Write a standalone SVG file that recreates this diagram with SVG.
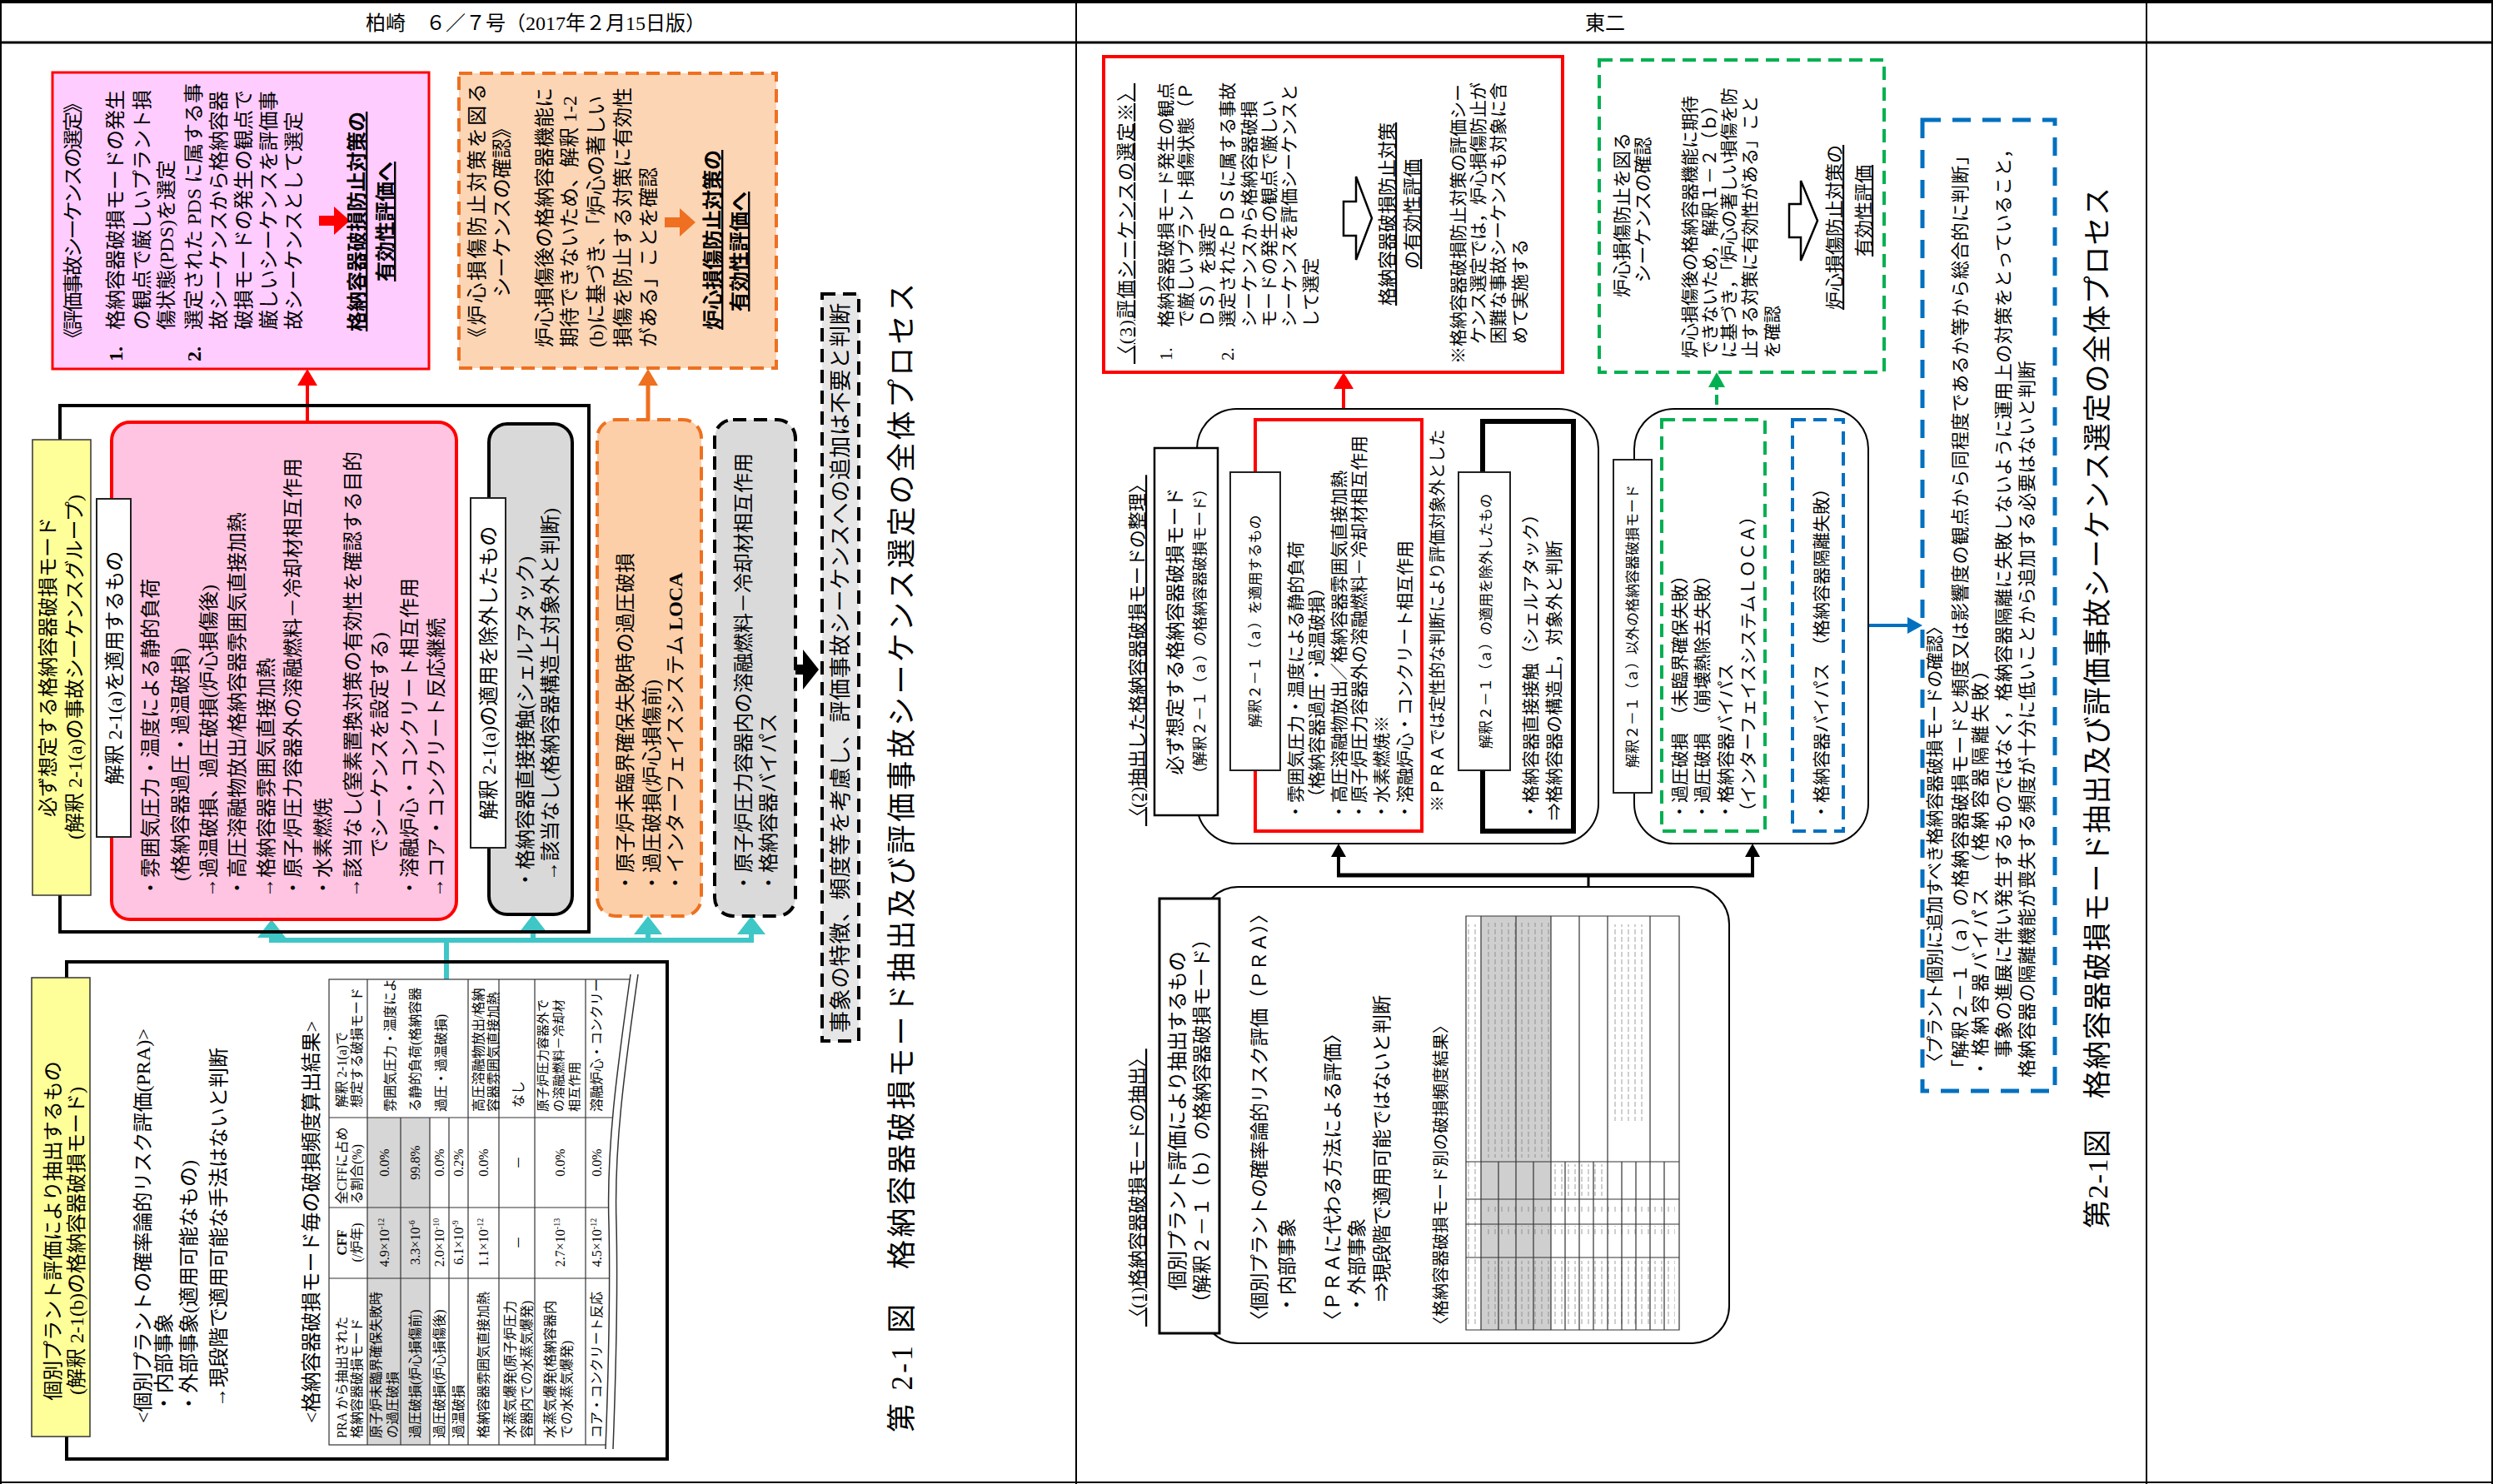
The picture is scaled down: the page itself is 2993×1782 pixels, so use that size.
<svg xmlns="http://www.w3.org/2000/svg" width="2993" height="1782" viewBox="0 0 2993 1782">
<defs>
<style>
text{font-family:"Liberation Serif","Noto Sans CJK JP",serif;fill:#000}
.m{text-anchor:middle}
.u{text-decoration:underline}
.b{font-weight:bold}
.s15{font-size:15px}.s16{font-size:16px}.s17{font-size:17px}.s18{font-size:18px}.s20{font-size:20px}.s21{font-size:21px}.s22{font-size:22px}.s23{font-size:23px}.s24{font-size:24px}.s26{font-size:26px}.s34{font-size:34px}.s35{font-size:35px}
.pg{stroke:#000;fill:none}
.lbl{fill:#fff;stroke:#222;stroke-width:2}
.tb{fill:none;stroke:#333;stroke-width:1.2}
.dsh{stroke-dasharray:16 9}
</style>
<marker id="mR" markerUnits="userSpaceOnUse" viewBox="0 0 20 24" refX="14" refY="12" markerWidth="20" markerHeight="24" orient="auto"><path d="M0,0 L20,12 L0,24Z" fill="#f00"/></marker>
<marker id="mO" markerUnits="userSpaceOnUse" viewBox="0 0 20 24" refX="14" refY="12" markerWidth="20" markerHeight="24" orient="auto"><path d="M0,0 L20,12 L0,24Z" fill="#ee7020"/></marker>
<marker id="mC" markerUnits="userSpaceOnUse" viewBox="0 0 22 34" refX="16" refY="17" markerWidth="22" markerHeight="34" orient="auto"><path d="M0,0 L22,17 L0,34Z" fill="#3fc6c6"/></marker>
<marker id="mK" markerUnits="userSpaceOnUse" viewBox="0 0 16 18" refX="10" refY="9" markerWidth="16" markerHeight="18" orient="auto"><path d="M0,0 L16,9 L0,18Z" fill="#000"/></marker>
<marker id="mG" markerUnits="userSpaceOnUse" viewBox="0 0 18 20" refX="12" refY="10" markerWidth="18" markerHeight="20" orient="auto"><path d="M0,0 L18,10 L0,20Z" fill="#00b050"/></marker>
<marker id="mB" markerUnits="userSpaceOnUse" viewBox="0 0 18 20" refX="12" refY="10" markerWidth="18" markerHeight="20" orient="auto"><path d="M0,0 L18,10 L0,20Z" fill="#0070c0"/></marker>
<clipPath id="tclip"><path d="M390,1170 H757 C740,1290 728,1380 731,1470 C733,1560 730,1660 727,1740 H390 Z"/></clipPath>
<pattern id="tx" patternUnits="userSpaceOnUse" width="8" height="9"><rect x="2" y="0" width="2" height="6" fill="#777"/></pattern>
</defs>
<rect width="2993" height="1782" fill="#fff"/>

<g id="page" class="pg">
<path d="M0,2 H2993" stroke-width="4"/>
<path d="M0,51 H2993" stroke-width="3"/>
<path d="M1,0 V1782 M2992,0 V1782 M0,1780 H2993" stroke-width="2"/>
<path d="M1292,0 V1782 M2577,0 V1782" stroke-width="2"/>
</g>
<g id="header">
<text class="s24 m" x="643" y="36">柏崎　６／７号（2017年２月15日版）</text>
<text class="s24 m" x="1927" y="36">東二</text>
</g>

<!-- ================= LEFT FIGURE ================= -->
<g id="connectorsL">
<path d="M369,505 V449" stroke="#f00" stroke-width="4" fill="none" marker-end="url(#mR)"/>
<path d="M778,504 V449" stroke="#ee7020" stroke-width="5" fill="none" marker-end="url(#mO)"/>
<g stroke="#3fc6c6" stroke-width="6" fill="none">
<path d="M323,1129 H905 M536,1129 V1176"/>
<path d="M326,1129 V1110" marker-end="url(#mC)"/>
<path d="M640,1129 V1104" marker-end="url(#mC)"/>
<path d="M778,1129 V1106" marker-end="url(#mC)"/>
<path d="M902,1129 V1106" marker-end="url(#mC)"/>
</g>
<path d="M953,798 H964 V780 L983,804 L964,828 V810 H953 Z" fill="#000"/>
</g>

<g id="evalBoxL">
<rect x="63" y="87" width="452" height="356" fill="#ffccff" stroke="#f00" stroke-width="3"/>
<text class="s24" transform="translate(96 418) rotate(-90)" textLength="306">《評価事故シーケンスの選定》</text>
<text class="s24 b" transform="translate(147 434) rotate(-90)">1.</text>
<text class="s24" transform="translate(147 396) rotate(-90)">格納容器破損モードの発生</text>
<text class="s24" transform="translate(179 396) rotate(-90)">の観点で厳しいプラント損</text>
<text class="s24" transform="translate(208 396) rotate(-90)">傷状態(PDS)を選定</text>
<text class="s24 b" transform="translate(241 434) rotate(-90)">2.</text>
<text class="s24" transform="translate(241 396) rotate(-90)">選定された PDS に属する事</text>
<text class="s24" transform="translate(271 396) rotate(-90)">故シーケンスから格納容器</text>
<text class="s24" transform="translate(301 396) rotate(-90)">破損モードの発生の観点で</text>
<text class="s24" transform="translate(331 396) rotate(-90)">厳しいシーケンスを評価事</text>
<text class="s24" transform="translate(361 396) rotate(-90)">故シーケンスとして選定</text>
<path d="M383,259 H401 V248 L420,265 L401,282 V271 H383 Z" fill="#f00"/>
<text class="s24 b u m" transform="translate(437 266) rotate(-90)">格納容器破損防止対策の</text>
<text class="s24 b u m" transform="translate(471 266) rotate(-90)">有効性評価へ</text>
</g>

<g id="coreBoxL">
<rect x="551" y="88" width="381" height="354" fill="#fcd5b5" stroke="#ee7020" stroke-width="4" class="dsh"/>
<text class="s24" transform="translate(581 417) rotate(-90)" textLength="317">《炉心損傷防止対策を図る</text>
<text class="s24" transform="translate(611 357) rotate(-90)">シーケンスの確認》</text>
<text class="s24" transform="translate(662 417) rotate(-90)">炉心損傷後の格納容器機能に</text>
<text class="s24" transform="translate(692 417) rotate(-90)">期待できないため、解釈 1-2</text>
<text class="s24" transform="translate(724 417) rotate(-90)">(b)に基づき、「炉心の著しい</text>
<text class="s24" transform="translate(756 417) rotate(-90)">損傷を防止する対策に有効性</text>
<text class="s24" transform="translate(787 417) rotate(-90)">がある」ことを確認</text>
<path d="M798,261 H816 V250 L835,267 L816,284 V273 H798 Z" fill="#ee7020"/>
<text class="s24 b u m" transform="translate(864 288) rotate(-90)">炉心損傷防止対策の</text>
<text class="s24 b u m" transform="translate(896 302) rotate(-90)">有効性評価へ</text>
</g>

<g id="frameA">
<rect x="72" y="487" width="635" height="632" fill="none" stroke="#000" stroke-width="4"/>
</g>

<g id="labelA">
<rect x="39" y="528" width="70" height="547" fill="#ffff99" stroke="#333" stroke-width="1.5"/>
<text class="s24 m" transform="translate(66 801) rotate(-90)">必ず想定する格納容器破損モード</text>
<text class="s24 m" transform="translate(98 801) rotate(-90)">(解釈 2-1(a)の事故シーケンスグループ)</text>
</g>

<g id="applyBoxL">
<rect x="134" y="507" width="414" height="597" rx="22" fill="#ffc4e1" stroke="#f00" stroke-width="4"/>
<rect x="116" y="599" width="41" height="406" class="lbl"/>
<text class="s24 m" transform="translate(146 802) rotate(-90)">解釈 2-1(a)を適用するもの</text>
<text class="s24" transform="translate(189 1078) rotate(-90)">・雰囲気圧力・温度による静的負荷</text>
<text class="s24" transform="translate(225 1058) rotate(-90)">(格納容器過圧・過温破損)</text>
<text class="s24" transform="translate(259 1078) rotate(-90)">→過温破損、過圧破損(炉心損傷後)</text>
<text class="s24" transform="translate(293 1078) rotate(-90)">・高圧溶融物放出/格納容器雰囲気直接加熱</text>
<text class="s24" transform="translate(328 1078) rotate(-90)">→格納容器雰囲気直接加熱</text>
<text class="s24" transform="translate(360 1078) rotate(-90)">・原子炉圧力容器外の溶融燃料－冷却材相互作用</text>
<text class="s24" transform="translate(396 1078) rotate(-90)">・水素燃焼</text>
<text class="s24" transform="translate(432 1078) rotate(-90)">→該当なし(窒素置換対策の有効性を確認する目的</text>
<text class="s24" transform="translate(464 1030) rotate(-90)">でシーケンスを設定する)</text>
<text class="s24" transform="translate(500 1078) rotate(-90)">・溶融炉心・コンクリート相互作用</text>
<text class="s24" transform="translate(532 1078) rotate(-90)">→コア・コンクリート反応継続</text>
</g>

<g id="excludeBoxL">
<rect x="587" y="509" width="100" height="589" rx="22" fill="#d9d9d9" stroke="#000" stroke-width="4"/>
<rect x="565" y="598" width="42" height="420" class="lbl"/>
<text class="s24 m" transform="translate(595 808) rotate(-90)">解釈 2-1(a)の適用を除外したもの</text>
<text class="s24" transform="translate(639 1068) rotate(-90)">・格納容器直接接触(シェルアタック)</text>
<text class="s24" transform="translate(669 1058) rotate(-90)">→該当なし(格納容器構造上対象外と判断)</text>
</g>

<g id="orangeBoxL">
<rect x="717" y="504" width="125" height="596" rx="22" fill="#fccfa9" stroke="#ee7020" stroke-width="4" class="dsh"/>
<text class="s24" transform="translate(759 1072) rotate(-90)">・原子炉未臨界確保失敗時の過圧破損</text>
<text class="s24" transform="translate(791 1072) rotate(-90)">・過圧破損(炉心損傷前)</text>
<text class="s24" transform="translate(819 1072) rotate(-90)">・インターフェイスシステム <tspan class="b">LOCA</tspan></text>
</g>

<g id="grayBoxL">
<rect x="858" y="504" width="97" height="596" rx="22" fill="#dadada" stroke="#000" stroke-width="4" class="dsh"/>
<text class="s24" transform="translate(901 1072) rotate(-90)">・原子炉圧力容器内の溶融燃料－冷却材相互作用</text>
<text class="s24" transform="translate(931 1072) rotate(-90)">・格納容器バイパス</text>
</g>

<g id="judgeBoxL">
<rect x="987" y="353" width="44" height="897" fill="#e6e6e6" stroke="#000" stroke-width="4" class="dsh"/>
<text class="s26" transform="translate(1018 1240) rotate(-90)" textLength="876">事象の特徴、頻度等を考慮し、評価事故シーケンスへの追加は不要と判断</text>
</g>

<g id="praBoxL">
<rect x="80" y="1155" width="721" height="597" fill="none" stroke="#000" stroke-width="4"/>
<rect x="38" y="1174" width="70" height="551" fill="#ffff99" stroke="#333" stroke-width="1.5"/>
<text class="s24 m" transform="translate(72 1478) rotate(-90)">個別プラント評価により抽出するもの</text>
<text class="s24 m" transform="translate(100 1490) rotate(-90)">(解釈 2-1(b)の格納容器破損モード)</text>
<text class="s24" transform="translate(180 1709) rotate(-90)">&lt;個別プラントの確率論的リスク評価(PRA)&gt;</text>
<text class="s24" transform="translate(205 1697) rotate(-90)">・内部事象</text>
<text class="s24" transform="translate(235 1697) rotate(-90)">・外部事象(適用可能なもの)</text>
<text class="s24" transform="translate(271 1690) rotate(-90)">→現段階で適用可能な手法はないと判断</text>
<text class="s24" transform="translate(382 1709) rotate(-90)">&lt;格納容器破損モード毎の破損頻度算出結果&gt;</text>
</g>

<g id="tableL">
<g clip-path="url(#tclip)">
<rect x="441" y="1342" width="75" height="393" fill="#d6d6d6"/>
<rect x="395" y="1176" width="370" height="559" class="tb"/>
<path class="tb" d="M441,1176 V1735 M481,1342 V1735 M516,1342 V1735 M539,1342 V1735 M562,1176 V1735 M599,1176 V1735 M642,1176 V1735 M703,1176 V1735 M395,1342 H765 M395,1450 H765 M395,1535 H765"/>
<text class="s16" transform="translate(416 1727) rotate(-90)">PRA から抽出された</text>
<text class="s16" transform="translate(434 1727) rotate(-90)">格納容器破損モード</text>
<text class="s16 m b" transform="translate(416 1492) rotate(-90)">CFF</text>
<text class="s16 m" transform="translate(434 1492) rotate(-90)">(/炉年)</text>
<text class="s16" transform="translate(416 1446) rotate(-90)">全CFFに占め</text>
<text class="s16" transform="translate(434 1446) rotate(-90)">る割合(%)</text>
<text class="s16" transform="translate(416 1330) rotate(-90)">解釈 2-1(a)で</text>
<text class="s16" transform="translate(434 1330) rotate(-90)">想定する破損モード</text>
<text class="s16" transform="translate(457 1727) rotate(-90)">原子炉未臨界確保失敗時</text>
<text class="s16" transform="translate(477 1727) rotate(-90)">の過圧破損</text>
<text class="s16 m" transform="translate(467 1492) rotate(-90)">4.9×10<tspan dy="-6" font-size="10">-12</tspan></text>
<text class="s16 m" transform="translate(467 1396) rotate(-90)">0.0%</text>
<text class="s16" transform="translate(504 1727) rotate(-90)">過圧破損(炉心損傷前)</text>
<text class="s16 m" transform="translate(504 1492) rotate(-90)">3.3×10<tspan dy="-6" font-size="10">-6</tspan></text>
<text class="s16 m" transform="translate(504 1396) rotate(-90)">99.8%</text>
<text class="s16" transform="translate(474 1335) rotate(-90)">雰囲気圧力・温度によ</text>
<text class="s16" transform="translate(504 1335) rotate(-90)">る静的負荷(格納容器</text>
<text class="s16" transform="translate(535 1335) rotate(-90)">過圧・過温破損)</text>
<text class="s16" transform="translate(533 1727) rotate(-90)">過圧破損(炉心損傷後)</text>
<text class="s16 m" transform="translate(533 1492) rotate(-90)">2.0×10<tspan dy="-6" font-size="10">-10</tspan></text>
<text class="s16 m" transform="translate(533 1396) rotate(-90)">0.0%</text>
<text class="s16" transform="translate(556 1727) rotate(-90)">過温破損</text>
<text class="s16 m" transform="translate(556 1492) rotate(-90)">6.1×10<tspan dy="-6" font-size="10">-9</tspan></text>
<text class="s16 m" transform="translate(556 1396) rotate(-90)">0.2%</text>
<text class="s16" transform="translate(586 1727) rotate(-90)">格納容器雰囲気直接加熱</text>
<text class="s16 m" transform="translate(586 1492) rotate(-90)">1.1×10<tspan dy="-6" font-size="10">-12</tspan></text>
<text class="s16 m" transform="translate(586 1396) rotate(-90)">0.0%</text>
<text class="s16" transform="translate(580 1335) rotate(-90)">高圧溶融物放出/格納</text>
<text class="s16" transform="translate(598 1335) rotate(-90)">容器雰囲気直接加熱</text>
<text class="s16" transform="translate(618 1727) rotate(-90)">水蒸気爆発(原子炉圧力</text>
<text class="s16" transform="translate(638 1727) rotate(-90)">容器内での水蒸気爆発)</text>
<text class="s16 m" transform="translate(628 1492) rotate(-90)">－</text>
<text class="s16 m" transform="translate(628 1396) rotate(-90)">－</text>
<text class="s16" transform="translate(628 1330) rotate(-90)">なし</text>
<text class="s16" transform="translate(666 1727) rotate(-90)">水蒸気爆発(格納容器内</text>
<text class="s16" transform="translate(686 1727) rotate(-90)">での水蒸気爆発)</text>
<text class="s16 m" transform="translate(678 1492) rotate(-90)">2.7×10<tspan dy="-6" font-size="10">-13</tspan></text>
<text class="s16 m" transform="translate(678 1396) rotate(-90)">0.0%</text>
<text class="s15" transform="translate(657 1335) rotate(-90)">原子炉圧力容器外で</text>
<text class="s15" transform="translate(676 1335) rotate(-90)">の溶融燃料－冷却材</text>
<text class="s15" transform="translate(695 1335) rotate(-90)">相互作用</text>
<text class="s16" transform="translate(722 1727) rotate(-90)">コア・コンクリート反応</text>
<text class="s16 m" transform="translate(722 1492) rotate(-90)">4.5×10<tspan dy="-6" font-size="10">-12</tspan></text>
<text class="s16 m" transform="translate(722 1396) rotate(-90)">0.0%</text>
<text class="s16" transform="translate(722 1335) rotate(-90)">溶融炉心・コンクリー</text>
</g>
<path d="M757,1170 C740,1290 728,1380 731,1470 C733,1560 730,1660 727,1740" fill="none" stroke="#333" stroke-width="1.5"/>
<path d="M766,1170 C749,1290 737,1380 740,1470 C742,1560 739,1660 736,1740" fill="none" stroke="#333" stroke-width="1.5"/>
</g>

<g id="captionL">
<text class="s35" transform="translate(1095 1720) rotate(-90)" textLength="1380">第 2-1 図　格納容器破損モード抽出及び評価事故シーケンス選定の全体プロセス</text>
</g>

<!-- ================= RIGHT FIGURE ================= -->
<g id="connectorsR">
<path d="M1613,504 V453" stroke="#f00" stroke-width="4" fill="none" marker-end="url(#mR)"/>
<path d="M2061,504 V453" stroke="#00b050" stroke-width="4" fill="none" stroke-dasharray="12 6" marker-end="url(#mG)"/>
<path d="M2213,751 H2302" stroke="#0070c0" stroke-width="4" fill="none" marker-end="url(#mB)"/>
<path d="M1605,1051 H2106" stroke="#000" stroke-width="5" fill="none"/>
<path d="M1607,1051 V1019" stroke="#000" stroke-width="4" fill="none" marker-end="url(#mK)"/>
<path d="M2104,1051 V1019" stroke="#000" stroke-width="4" fill="none" marker-end="url(#mK)"/>
<path d="M1907,1051 V1100" stroke="#000" stroke-width="3" fill="none"/>
</g>

<g id="evalBoxR">
<rect x="1325" y="68" width="551" height="379" fill="#fff" stroke="#f00" stroke-width="4"/>
<text class="s22 u" transform="translate(1359 437) rotate(-90)" textLength="337">〈(3)評価シーケンスの選定※〉</text>
<text class="s21" transform="translate(1407 433) rotate(-90)">1.</text>
<text class="s21" transform="translate(1407 393) rotate(-90)">格納容器破損モード発生の観点</text>
<text class="s21" transform="translate(1431 393) rotate(-90)">で厳しいプラント損傷状態（Ｐ</text>
<text class="s21" transform="translate(1457 393) rotate(-90)">ＤＳ）を選定</text>
<text class="s21" transform="translate(1481 433) rotate(-90)">2.</text>
<text class="s21" transform="translate(1481 393) rotate(-90)">選定されたＰＤＳに属する事故</text>
<text class="s21" transform="translate(1507 393) rotate(-90)">シーケンスから格納容器破損</text>
<text class="s21" transform="translate(1531 393) rotate(-90)">モードの発生の観点で厳しい</text>
<text class="s21" transform="translate(1555 393) rotate(-90)">シーケンスを評価シーケンスと</text>
<text class="s21" transform="translate(1581 393) rotate(-90)">して選定</text>
<path d="M1613,242 H1628 V212 L1647,262 L1628,312 V283 H1613 Z" fill="#fff" stroke="#000" stroke-width="2.5"/>
<text class="s22 u m" transform="translate(1673 257) rotate(-90)">格納容器破損防止対策</text>
<text class="s22 u m" transform="translate(1703 257) rotate(-90)">の有効性評価</text>
<text class="s21" transform="translate(1758 437) rotate(-90)">※格納容器破損防止対策の評価シー</text>
<text class="s21" transform="translate(1782 413) rotate(-90)">ケンス選定では，炉心損傷防止が</text>
<text class="s21" transform="translate(1806 413) rotate(-90)">困難な事故シーケンスも対象に含</text>
<text class="s21" transform="translate(1832 413) rotate(-90)">めて実施する</text>
</g>

<g id="coreBoxR">
<rect x="1920" y="72" width="342" height="375" fill="#fff" stroke="#00b050" stroke-width="4" class="dsh"/>
<text class="s22 m" transform="translate(1955 258) rotate(-90)">炉心損傷防止を図る</text>
<text class="s22 m" transform="translate(1980 252) rotate(-90)">シーケンスの確認</text>
<text class="s21" transform="translate(2036 430) rotate(-90)">炉心損傷後の格納容器機能に期待</text>
<text class="s21" transform="translate(2060 430) rotate(-90)">できないため，解釈１－２（ｂ）</text>
<text class="s21" transform="translate(2083 430) rotate(-90)">に基づき，「炉心の著しい損傷を防</text>
<text class="s21" transform="translate(2108 430) rotate(-90)">止する対策に有効性がある」こと</text>
<text class="s21" transform="translate(2135 430) rotate(-90)">を確認</text>
<path d="M2148,245 H2162 V217 L2182,265 L2162,313 V285 H2148 Z" fill="#fff" stroke="#000" stroke-width="2.5"/>
<text class="s22 u m" transform="translate(2210 273) rotate(-90)">炉心損傷防止対策の</text>
<text class="s22 u m" transform="translate(2245 253) rotate(-90)">有効性評価</text>
</g>

<g id="sortR">
<text class="s22 u" transform="translate(1373 992) rotate(-90)">〈(2)抽出した格納容器破損モードの整理〉</text>
<rect x="1437" y="491" width="482" height="522" rx="48" fill="#fff" stroke="#000" stroke-width="2"/>
<rect x="1386" y="538" width="76" height="441" fill="#fff" stroke="#000" stroke-width="2.5"/>
<text class="s23 m" transform="translate(1419 758) rotate(-90)">必ず想定する格納容器破損モード</text>
<text class="s18 m" transform="translate(1447 758) rotate(-90)">（解釈２－１（ａ）の格納容器破損モード）</text>
</g>

<g id="applyBoxR">
<rect x="1507" y="504" width="200" height="494" fill="#fff" stroke="#f00" stroke-width="4"/>
<rect x="1477" y="567" width="60" height="358" class="lbl"/>
<text class="s17 m" transform="translate(1513 746) rotate(-90)">解釈２－１（ａ）を適用するもの</text>
<text class="s21" transform="translate(1563 985) rotate(-90)">・雰囲気圧力・温度による静的負荷</text>
<text class="s21" transform="translate(1588 968) rotate(-90)">（格納容器過圧・過温破損）</text>
<text class="s21" transform="translate(1615 985) rotate(-90)">・高圧溶融物放出／格納容器雰囲気直接加熱</text>
<text class="s21" transform="translate(1639 985) rotate(-90)">・原子炉圧力容器外の溶融燃料－冷却材相互作用</text>
<text class="s21" transform="translate(1666 985) rotate(-90)">・水素燃焼※</text>
<text class="s21" transform="translate(1694 985) rotate(-90)">・溶融炉心・コンクリート相互作用</text>
<text class="s20" transform="translate(1733 975) rotate(-90)">※ＰＲＡでは定性的な判断により評価対象外とした</text>
</g>

<g id="excludeBoxR">
<rect x="1780" y="506" width="109" height="492" fill="#fff" stroke="#000" stroke-width="6"/>
<rect x="1751" y="567" width="62" height="358" class="lbl"/>
<text class="s17 m" transform="translate(1790 746) rotate(-90)">解釈２－１（ａ）の適用を除外したもの</text>
<text class="s21" transform="translate(1845 985) rotate(-90)">・格納容器直接接触（シェルアタック）</text>
<text class="s21" transform="translate(1873 985) rotate(-90)">⇒格納容器の構造上，対象外と判断</text>
</g>

<g id="otherBoxR">
<rect x="1962" y="491" width="281" height="522" rx="48" fill="#fff" stroke="#000" stroke-width="2"/>
<rect x="1937" y="552" width="46" height="400" class="lbl"/>
<text class="s17 m" transform="translate(1966 752) rotate(-90)">解釈２－１（ａ）以外の格納容器破損モード</text>
<rect x="1995" y="504" width="124" height="494" fill="#fff" stroke="#00b050" stroke-width="4" class="dsh"/>
<text class="s21" transform="translate(2024 985) rotate(-90)">・過圧破損　（未臨界確保失敗）</text>
<text class="s21" transform="translate(2051 985) rotate(-90)">・過圧破損　（崩壊熱除去失敗）</text>
<text class="s21" transform="translate(2079 985) rotate(-90)">・格納容器バイパス</text>
<text class="s21" transform="translate(2106 985) rotate(-90)">（インターフェイスシステムＬＯＣＡ）</text>
<rect x="2152" y="504" width="61" height="494" fill="#fff" stroke="#0070c0" stroke-width="4" class="dsh"/>
<text class="s21" transform="translate(2194 985) rotate(-90)">・格納容器バイパス　（格納容器隔離失敗）</text>
</g>

<g id="extractR">
<text class="s22 u" transform="translate(1373 1593) rotate(-90)">〈(1)格納容器破損モードの抽出〉</text>
<rect x="1442" y="1065" width="634" height="548" rx="45" fill="#fff" stroke="#000" stroke-width="2"/>
<rect x="1392" y="1079" width="72" height="522" fill="#fff" stroke="#000" stroke-width="3"/>
<text class="s24 m" transform="translate(1422 1346) rotate(-90)">個別プラント評価により抽出するもの</text>
<text class="s23 m" transform="translate(1451 1346) rotate(-90)">（解釈２－１（ｂ）の格納容器破損モード）</text>
<text class="s23" transform="translate(1520 1597) rotate(-90)" textLength="511">〈個別プラントの確率論的リスク評価（ＰＲＡ）〉</text>
<text class="s23" transform="translate(1553 1578) rotate(-90)">・内部事象</text>
<text class="s23" transform="translate(1608 1597) rotate(-90)">〈ＰＲＡに代わる方法による評価〉</text>
<text class="s23" transform="translate(1637 1578) rotate(-90)">・外部事象</text>
<text class="s23" transform="translate(1667 1563) rotate(-90)">⇒現段階で適用可能ではないと判断</text>
<text class="s20" transform="translate(1737 1601) rotate(-90)">〈格納容器破損モード別の破損頻度結果〉</text>
</g>

<g id="tableR">
<rect x="1760" y="1100" width="256" height="497" fill="#fff"/>
<rect x="1778" y="1100" width="84" height="497" fill="#cfcfcf"/>
<g opacity="0.35">
<rect x="1781" y="1108" width="79" height="282" fill="url(#tx)"/>
<rect x="1932" y="1110" width="46" height="236" fill="url(#tx)"/>
<rect x="1781" y="1514" width="230" height="78" fill="url(#tx)"/>
<rect x="1865" y="1398" width="60" height="38" fill="url(#tx)"/>
<rect x="1780" y="1472" width="231" height="12" fill="url(#tx)"/>
<rect x="1780" y="1446" width="231" height="10" fill="url(#tx)"/>
<rect x="1762" y="1110" width="14" height="480" fill="url(#tx)"/>
</g>
<path class="tb" d="M1760,1100 H2016 V1597 H1760 Z M1778,1100 V1597 M1820,1100 V1597 M1862,1100 V1597 M1896,1100 V1597 M1930,1100 V1597 M1981,1100 V1597 M1799,1395 V1597 M1841,1395 V1597 M1879,1395 V1597 M1913,1395 V1597 M1947,1395 V1597 M1964,1395 V1597 M1998,1395 V1597 M1760,1395 H2016 M1760,1440 H2016 M1760,1470 H2016 M1760,1510 H2016" stroke-width="0.8"/>
</g>

<g id="addBoxR">
<rect x="2308" y="144" width="159" height="1166" fill="#fff" stroke="#0070c0" stroke-width="5" stroke-dasharray="22 14"/>
<text class="s21" transform="translate(2330 1286) rotate(-90)">〈プラント個別に追加すべき格納容器破損モードの確認〉</text>
<text class="s22" transform="translate(2361 1294) rotate(-90)" textLength="1118">「解釈２－１（ａ）の格納容器破損モードと頻度又は影響度の観点から同程度であるか等から総合的に判断」</text>
<text class="s22" transform="translate(2385 1294) rotate(-90)" textLength="500">・格納容器バイパス　（格納容器隔離失敗）</text>
<text class="s22" transform="translate(2413 1270) rotate(-90)" textLength="1102">事象の進展に伴い発生するものではなく，格納容器隔離に失敗しないように運用上の対策をとっていること，</text>
<text class="s22" transform="translate(2441 1294) rotate(-90)" textLength="861">格納容器の隔離機能が喪失する頻度が十分に低いことから追加する必要はないと判断</text>
</g>

<g id="captionR">
<text class="s34" transform="translate(2530 1475) rotate(-90)" textLength="1250">第2-1図　格納容器破損モード抽出及び評価事故シーケンス選定の全体プロセス</text>
</g>
</svg>
